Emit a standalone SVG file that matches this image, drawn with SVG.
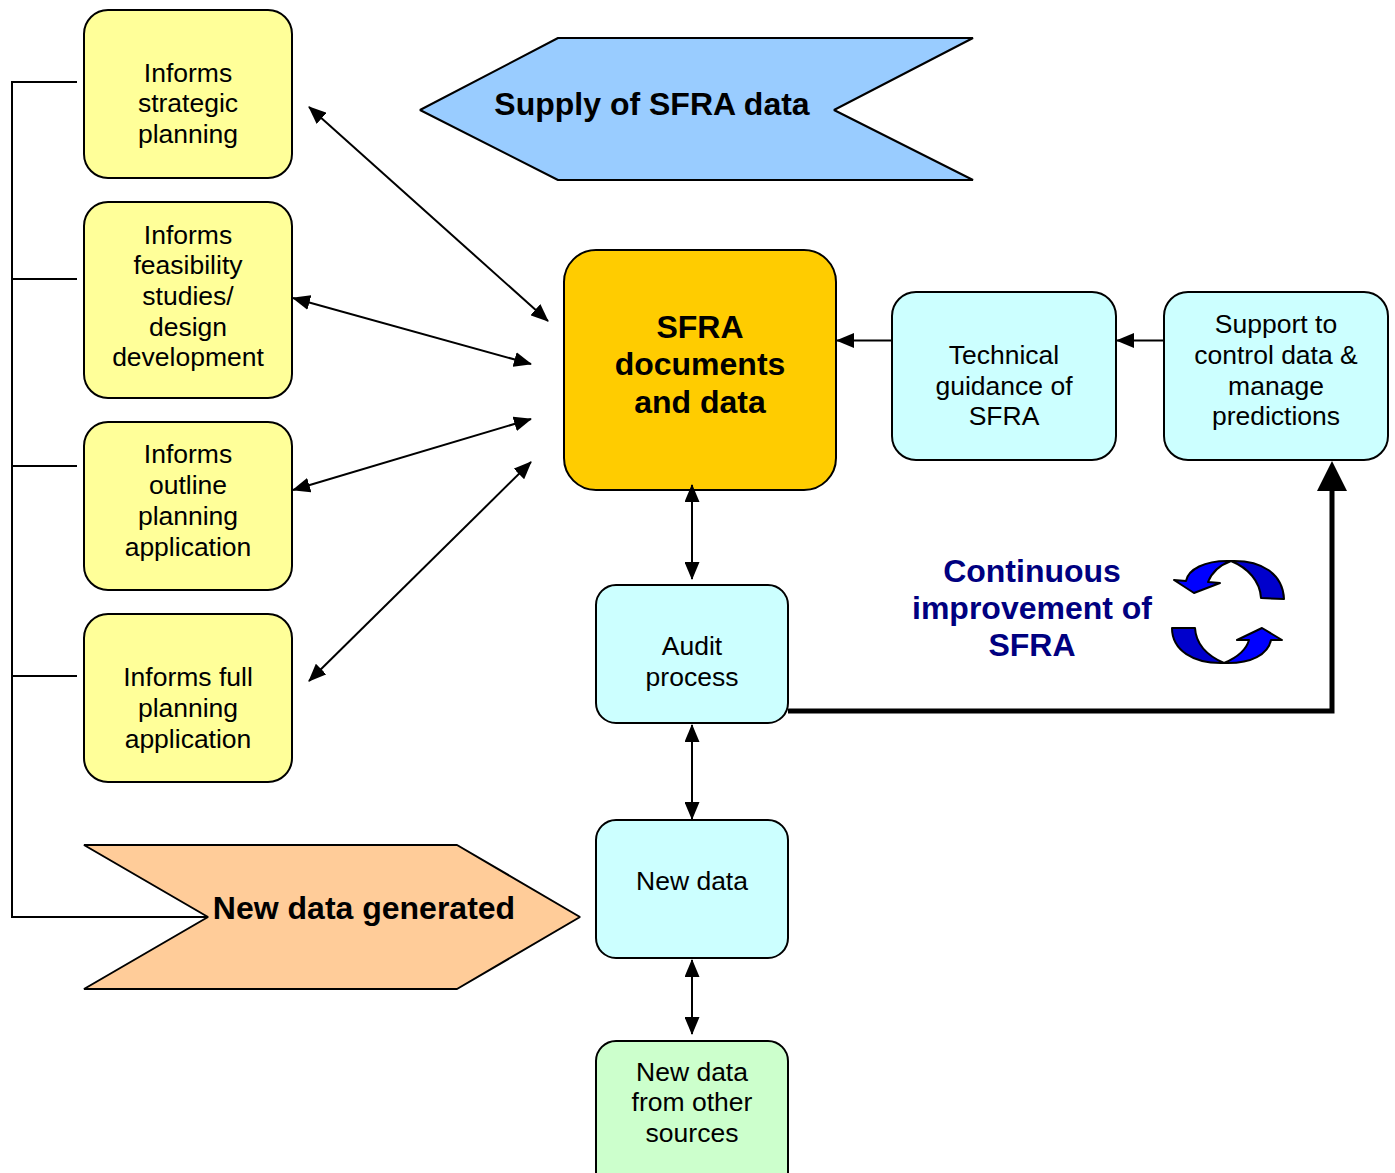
<svg xmlns="http://www.w3.org/2000/svg" width="1395" height="1173" viewBox="0 0 1395 1173">
<style>
text{font-family:"Liberation Sans",Arial,sans-serif;text-anchor:middle;fill:#000}
.n{font-size:26.5px}
.b{font-size:32px;font-weight:bold}
.box{stroke:#000;stroke-width:2}
.y{fill:#ffff99}.c{fill:#ccffff}
.l{stroke:#000;stroke-width:2;fill:none}
.a{stroke:#000;stroke-width:2;fill:none;marker-start:url(#ah);marker-end:url(#ah)}
.o{stroke:#000;stroke-width:2;fill:none;marker-end:url(#ah)}
.i{font-size:32px;font-weight:bold;fill:#000080}
</style>
<defs>
<marker id="ah" viewBox="0 0 18 15" refX="17" refY="7.5" markerUnits="userSpaceOnUse" markerWidth="18" markerHeight="15" orient="auto-start-reverse"><path d="M0 0L18 7.5L0 15Z" fill="#000"/></marker>
</defs>
<g id="n1"><rect class="box y" x="84" y="10" width="208" height="168" rx="24"/><text class="n" x="188" y="82">Informs</text><text class="n" x="188" y="112">strategic</text><text class="n" x="188" y="143">planning</text></g>
<g id="n2"><rect class="box y" x="84" y="202" width="208" height="196" rx="24"/><text class="n" x="188" y="244">Informs</text><text class="n" x="188" y="274">feasibility</text><text class="n" x="188" y="305">studies/</text><text class="n" x="188" y="336">design</text><text class="n" x="188" y="366">development</text></g>
<g id="n3"><rect class="box y" x="84" y="422" width="208" height="168" rx="24"/><text class="n" x="188" y="463">Informs</text><text class="n" x="188" y="494">outline</text><text class="n" x="188" y="525">planning</text><text class="n" x="188" y="556">application</text></g>
<g id="n4"><rect class="box y" x="84" y="614" width="208" height="168" rx="24"/><text class="n" x="188" y="686">Informs full</text><text class="n" x="188" y="717">planning</text><text class="n" x="188" y="748">application</text></g>
<g id="supply"><path class="box" fill="#99ccff" stroke-linejoin="bevel" d="M420 110L558 38H973L834 110L973 180H558Z"/><text class="b" x="652" y="115">Supply of SFRA data</text></g>
<g id="sfra"><rect class="box" fill="#ffcc00" x="564" y="250" width="272" height="240" rx="32"/><text class="b" x="700" y="338">SFRA</text><text class="b" x="700" y="375">documents</text><text class="b" x="700" y="413">and data</text></g>
<g id="tech"><rect class="box c" x="892" y="292" width="224" height="168" rx="24"/><text class="n" x="1004" y="364">Technical</text><text class="n" x="1004" y="395">guidance of</text><text class="n" x="1004" y="425">SFRA</text></g>
<g id="support"><rect class="box c" x="1164" y="292" width="224" height="168" rx="24"/><text class="n" x="1276" y="333">Support to</text><text class="n" x="1276" y="364">control data &amp;</text><text class="n" x="1276" y="395">manage</text><text class="n" x="1276" y="425">predictions</text></g>
<g id="audit"><rect class="box c" x="596" y="585" width="192" height="138" rx="20"/><text class="n" x="692" y="655">Audit</text><text class="n" x="692" y="686">process</text></g>
<g id="newdata"><rect class="box c" x="596" y="820" width="192" height="138" rx="20"/><text class="n" x="692" y="890">New data</text></g>
<g id="other"><path class="box" fill="#ccffcc" d="M616 1041H768A20 20 0 0 1 788 1061V1175H596V1061A20 20 0 0 1 616 1041Z"/><text class="n" x="692" y="1081">New data</text><text class="n" x="692" y="1111">from other</text><text class="n" x="692" y="1142">sources</text></g>
<g id="generated"><path class="box" fill="#ffcc99" stroke-linejoin="bevel" d="M84 845H457L580 917L457 989H84L208 917Z"/><text class="b" x="364" y="919">New data generated</text></g>
<g id="improve"><text class="i" x="1032" y="582">Continuous</text><text class="i" x="1032" y="619">improvement of</text><text class="i" x="1032" y="656">SFRA</text></g>
<g id="cycle" stroke="#000" stroke-width="2" stroke-linejoin="round">
<path fill="#0000cc" d="M1231 561C1262 560 1283 574 1284 599L1261 598C1260 581 1248 568 1231 561Z"/>
<path fill="#0000ff" d="M1231 561C1204 560 1188 570 1186 581L1174 580L1194 593L1220 583L1208 582C1212 572 1220 565 1231 561Z"/>
<path fill="#0000cc" d="M1224 663C1193 664 1172 650 1172 628L1195 628C1196 645 1208 656 1224 663Z"/>
<path fill="#0000ff" d="M1224 663C1252 664 1268 654 1271 640L1282 640L1262 628L1237 640L1249 640C1246 651 1236 658 1224 663Z"/>
</g>
<g id="connectors">
<path class="l" d="M77 82H12V917H208M12 279H77M12 466H77M12 676H77"/>
<path class="a" d="M309 107L548 321"/>
<path class="a" d="M293 298L531 364"/>
<path class="a" d="M293 490L531 419"/>
<path class="a" d="M309 681L531 462"/>
<path class="a" d="M692 485V579"/>
<path class="a" d="M692 725V819"/>
<path class="a" d="M692 960V1034"/>
<path class="o" d="M892 340.500H837"/>
<path class="o" d="M1164 340.500H1117"/>
<path d="M788 711H1332V490" fill="none" stroke="#000" stroke-width="5"/>
<path d="M1332 461L1347 491H1317Z" fill="#000"/>
</g>
</svg>
